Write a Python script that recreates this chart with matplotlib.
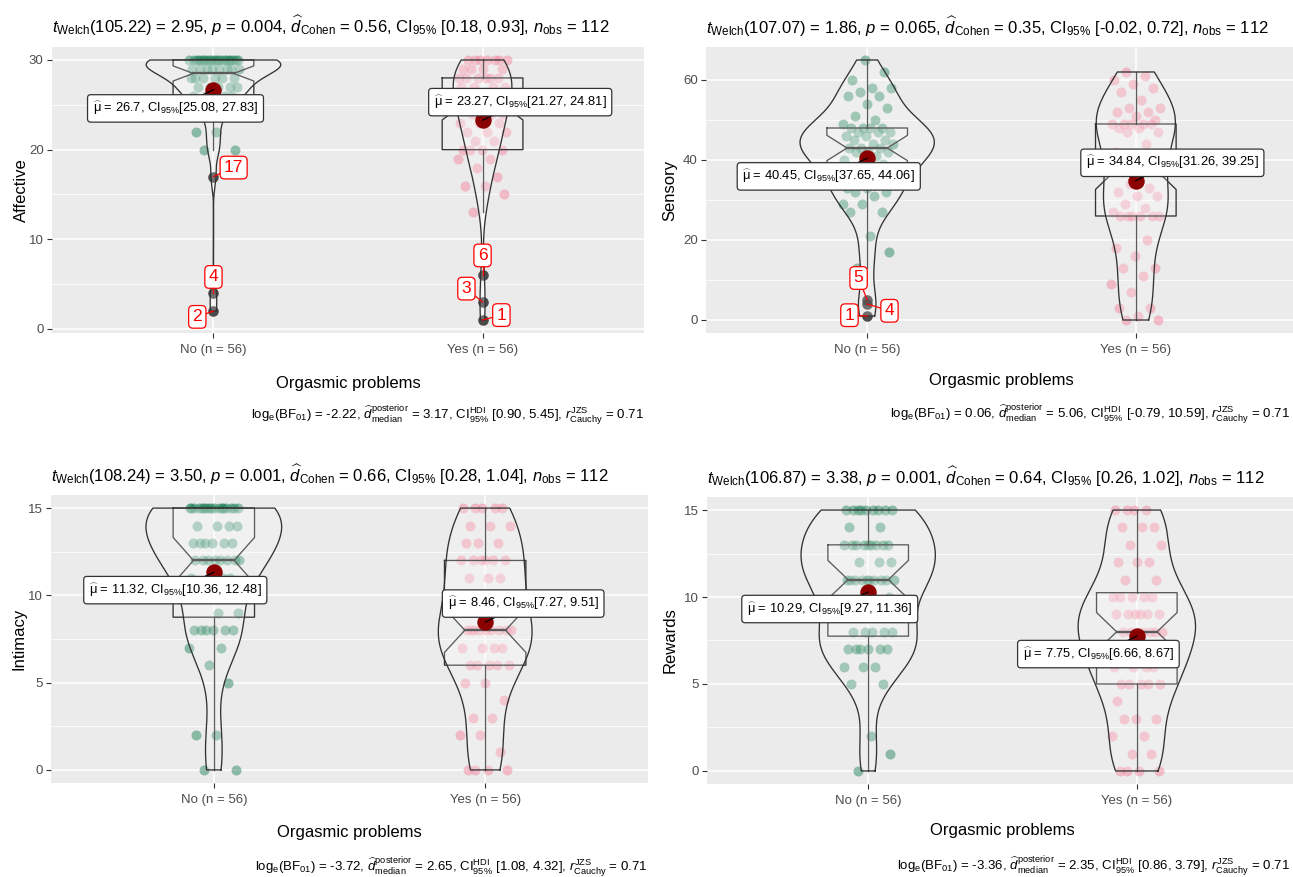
import numpy as np
import matplotlib
matplotlib.use("Agg")
import matplotlib.pyplot as plt

plt.rcParams['font.family'] = ['Liberation Sans', 'DejaVu Sans']
plt.rcParams['mathtext.fontset'] = 'custom'
plt.rcParams['mathtext.rm'] = 'Liberation Sans'
plt.rcParams['mathtext.it'] = 'Liberation Sans:italic'
plt.rcParams['mathtext.bf'] = 'Liberation Sans:bold'
plt.rcParams['mathtext.sf'] = 'Liberation Sans'

# ---------------- data ----------------
groups = ["No", "Yes"]
group_n = [56, 56]
x_title = "Orgasmic problems"
measures = ["Affective", "Sensory", "Intimacy", "Rewards"]

affective_no = [2, 4, 17, 20, 20, 22, 22, 24, 24, 25, 25, 25, 26, 26, 26, 26, 26,
                27, 27, 27, 27, 27, 28, 28, 28, 28, 28, 28,
                29, 29, 29, 29, 29, 29, 29, 29] + [30] * 20
affective_yes = [1, 3, 6, 13, 15, 16, 16, 17, 18, 19, 19, 20, 20, 20, 20, 21, 21,
                 22, 22, 22, 23, 23, 23, 24, 24, 24, 25, 25, 25, 25, 25,
                 26, 26, 26, 26, 27, 27, 27, 27, 28, 28, 28, 28, 28, 28,
                 29, 29, 29, 29, 30, 30, 30, 30, 30, 30, 30]
sensory_no = [1, 4, 5, 13, 17, 21, 27, 27, 29, 29, 31, 32, 32, 33, 33,
              35, 36, 37, 38, 38, 39, 40, 40, 41, 42, 42, 42, 43, 43,
              43, 44, 44, 45, 45, 46, 46, 47, 47, 47, 48, 48, 48, 48,
              49, 50, 51, 53, 54, 56, 56, 57, 58, 58, 60, 62, 65]
sensory_yes = [0, 0, 1, 3, 3, 7, 9, 11, 13, 13, 16, 18, 20, 26,
               26, 26, 26, 26, 26, 27, 28, 29, 31, 31, 32, 33, 34, 37,
               38, 38, 39, 40, 42, 44, 47, 47, 48, 48, 49, 49, 49, 49,
               49, 50, 51, 52, 52, 53, 53, 55, 57, 58, 59, 60, 61, 62]
intimacy_no = [0, 0, 2, 2, 5, 6, 7, 7, 8, 8, 8, 8, 8, 8, 9,
               9, 10, 11, 11, 11, 11, 12, 12, 12, 12, 12, 12, 12,
               12, 13, 13, 13, 13, 13, 13, 14, 14, 14, 14, 15, 15, 15] + [15] * 14
intimacy_yes = [0, 0, 0, 0, 1, 2, 2, 3, 3, 4, 5, 5, 6, 6,
                6, 6, 6, 7, 7, 7, 7, 8, 8, 8, 8, 8, 8, 8,
                8, 8, 9, 9, 10, 10, 10, 10, 11, 11, 11, 12, 12, 12,
                12, 12, 12, 13, 13, 13, 14, 14, 14, 15, 15, 15, 15, 15]
rewards_no = [0, 1, 2, 5, 5, 6, 6, 6, 7, 7, 7, 7, 7, 7,
              8, 8, 8, 8, 8, 9, 9, 9, 10, 11, 11, 11, 11, 11,
              11, 11, 11, 11, 11, 12, 12, 12, 13, 13, 13, 13, 13, 13,
              13, 13, 13, 14, 14, 15, 15, 15, 15, 15, 15, 15, 15, 15]
rewards_yes = [0, 0, 0, 0, 1, 1, 2, 2, 3, 3, 3, 4, 5, 5,
               5, 5, 5, 6, 6, 6, 6, 7, 7, 7, 7, 8, 8, 8,
               8, 8, 8, 9, 9, 9, 9, 9, 9, 10, 10, 10, 10, 10,
               11, 11, 12, 12, 12, 13, 13, 14, 14, 14, 15, 15, 15, 15]

y_ticks = [[0, 10, 20, 30], [0, 20, 40, 60], [0, 5, 10, 15], [0, 5, 10, 15]]

# reported statistics (text)
welch_df = ["105.22", "107.07", "108.24", "106.87"]
welch_t = ["2.95", "1.86", "3.50", "3.38"]
p_val = ["0.004", "0.065", "0.001", "0.001"]
cohen_d = ["0.56", "0.35", "0.66", "0.64"]
cohen_ci = [["0.18", "0.93"], ["-0.02", "0.72"], ["0.28", "1.04"], ["0.26", "1.02"]]
n_obs = ["112", "112", "112", "112"]
log_bf = ["-2.22", "0.06", "-3.72", "-3.36"]
post_median = ["3.17", "5.06", "2.65", "2.35"]
hdi_ci = [["0.90", "5.45"], ["-0.79", "10.59"], ["1.08", "4.32"], ["0.86", "3.79"]]
r_cauchy = ["0.71", "0.71", "0.71", "0.71"]
mean_text = [["26.7", "23.27"], ["40.45", "34.84"], ["11.32", "8.46"], ["10.29", "7.75"]]
mean_ci = [[["25.08", "27.83"], ["21.27", "24.81"]],
           [["37.65", "44.06"], ["31.26", "39.25"]],
           [["10.36", "12.48"], ["7.27", "9.51"]],
           [["9.27", "11.36"], ["6.66", "8.67"]]]

data_sets = [[affective_no, affective_yes], [sensory_no, sensory_yes],
             [intimacy_no, intimacy_yes], [rewards_no, rewards_yes]]

# ---------------- layout (pixels) ----------------
W, H = 1293, 877
rects = [(52, 644, 47, 333), (706, 1297, 47, 333),
         (51, 648, 495, 783), (707, 1298, 497, 784)]
title_y = [26, 27, 475, 477]
xlab_y = [383, 381, 833, 831]
cap_y = [415, 414, 867, 866]
ylab_x = [21, 670, 19, 670]
mean_lab_pos = [[(0.859, 24.6), (2.14, 25.3)],
                [(0.857, 35.9), (2.136, 39.3)],
                [(0.858, 10.3), (2.14, 9.53)],
                [(0.857, 9.31), (1.857, 6.72)]]
out_lab_pos = [[{17: (1.075, 18.0), 4: (1.0, 5.8), 2: (0.94, 1.35)},
                {6: (2.0, 8.2), 3: (1.94, 4.5), 1: (2.07, 1.55)}],
               [{5: (0.968, 10.5), 4: (1.083, 2.3), 1: (0.934, 1.2)}, {}],
               [{}, {}], [{}, {}]]

colors = ["#137A4E", "#F27D96"]
line_col = "#333333"

fig = plt.figure(figsize=(W / 100, H / 100), dpi=100)


def px_to_fig(x, y):
    return x / W, 1 - y / H


def kde_nrd0(vals, grid):
    v = np.asarray(vals, float)
    n = len(v)
    sd = v.std(ddof=1)
    q1, q3 = np.percentile(v, [25, 75])
    lo = min(sd, (q3 - q1) / 1.34)
    if lo <= 0:
        lo = sd
    bw = 0.9 * lo * n ** -0.2
    z = (grid[:, None] - v[None, :]) / bw
    return np.exp(-0.5 * z ** 2).sum(axis=1) / (n * bw * np.sqrt(2 * np.pi))


def jitter_offsets(vals, width=0.095):
    out = []
    for i, _ in enumerate(vals):
        f = (i * 0.6180339887 + 0.31) % 1.0
        out.append((f - 0.5) * 2 * width)
    return np.array(out)


for k in range(4):
    x0, x1, yt, yb = rects[k]
    fx0, fy1 = px_to_fig(x0, yt)
    fx1, fy0 = px_to_fig(x1, yb)
    ax = fig.add_axes([fx0, fy0, fx1 - fx0, fy1 - fy0])
    ax.set_facecolor("#EBEBEB")
    for s in ax.spines.values():
        s.set_visible(False)
    data = data_sets[k]
    allv = np.concatenate([np.asarray(d, float) for d in data])
    lo, hi = allv.min(), allv.max()
    pad = 0.05 * (hi - lo)
    ax.set_ylim(lo - pad, hi + pad)
    ax.set_xlim(0.4, 2.6)
    ticks = y_ticks[k]
    ax.set_yticks(ticks)
    ax.set_yticklabels([str(t) for t in ticks])
    step = ticks[1] - ticks[0]
    minors = [t + step / 2 for t in ticks[:-1]]
    ax.set_yticks(minors, minor=True)
    ax.tick_params(axis='y', which='minor', length=0)
    ax.set_xticks([1, 2])
    ax.set_xticklabels([f"{g} (n = {n})" for g, n in zip(groups, group_n)])
    ax.tick_params(axis='both', which='major', length=3.5, width=0.8,
                   color=line_col, labelcolor="#4D4D4D", labelsize=9.5, pad=2.5)
    ax.tick_params(axis='x', which='major', pad=4.5)
    ax.grid(True, which='major', color='white', lw=1.1, zorder=0)
    ax.grid(True, which='minor', axis='y', color='white', lw=0.55, zorder=0)
    ax.set_axisbelow(True)

    grids, dens = [], []
    for d in data:
        g = np.linspace(min(d), max(d), 512)
        grids.append(g)
        dens.append(kde_nrd0(d, g))
    dmax = max(dd.max() for dd in dens)

    for gi, d in enumerate(data):
        pos = gi + 1
        v = np.asarray(d, float)
        q1, med, q3 = np.percentile(v, [25, 50, 75])
        iqr = q3 - q1
        lofence, hifence = q1 - 1.5 * iqr, q3 + 1.5 * iqr
        inl = v[(v >= lofence) & (v <= hifence)]
        outl = v[(v < lofence) | (v > hifence)]
        jx = pos + jitter_offsets(inl)
        ax.scatter(jx, inl, s=52, color=colors[gi], alpha=0.45, linewidths=0, zorder=2)
        xmin, xmax = pos - 0.15, pos + 0.15
        ind = (1 - 0.5) * 0.3 / 2
        nu = med + 1.58 * iqr / np.sqrt(len(v))
        nl = med - 1.58 * iqr / np.sqrt(len(v))
        bx = [xmin, xmin, xmin + ind, xmin, xmin, xmax, xmax, xmax - ind, xmax, xmax]
        by = [q3, nu, med, nl, q1, q1, nl, med, nu, q3]
        ax.fill(bx, by, facecolor='white', alpha=0.2, edgecolor='none', zorder=3)
        ax.plot(bx + [bx[0]], by + [by[0]], color=line_col, lw=0.95, zorder=3)
        ax.plot([xmin + ind, xmax - ind], [med, med], color=line_col, lw=1.7, zorder=3)
        ax.plot([pos, pos], [q3, inl.max()], color=line_col, lw=0.95, zorder=3)
        ax.plot([pos, pos], [q1, inl.min()], color=line_col, lw=0.95, zorder=3)
        if len(outl):
            ax.scatter(np.full(len(outl), pos), outl, s=58, color='#222222', alpha=0.8,
                       linewidths=0, zorder=4)
        hw = 0.25 * dens[gi] / dmax
        g = grids[gi]
        vx = np.concatenate([pos + hw, (pos - hw)[::-1]])
        vy = np.concatenate([g, g[::-1]])
        ax.fill(vx, vy, facecolor='white', alpha=0.2, edgecolor='none', zorder=4)
        ax.plot(np.append(vx, vx[0]), np.append(vy, vy[0]), color=line_col, lw=0.95, zorder=4)
        for ov, (lx, ly) in out_lab_pos[k][gi].items():
            ax.plot([pos, lx], [ov, ly], color='red', lw=0.9, zorder=5)
            ax.text(lx, ly, str(ov), color='red', fontsize=12.5, ha='center', va='center',
                    zorder=6,
                    bbox=dict(boxstyle='round,pad=0.22,rounding_size=0.25', fc='white',
                              ec='red', lw=0.9))
        m = v.mean()
        ax.scatter([pos], [m], s=140, color='#8B0000', linewidths=0, zorder=7)
        lx, ly = mean_lab_pos[k][gi]
        ax.plot([pos, lx], [m, ly], color='black', lw=0.9, zorder=7)
        lab = (r"$\widehat{\mathrm{\mu}}$ = " + mean_text[k][gi] + r", CI$_{95\%}$[" +
               mean_ci[k][gi][0] + ", " + mean_ci[k][gi][1] + "]")
        ax.text(lx, ly, lab, fontsize=9.3, ha='center', va='center', zorder=8,
                bbox=dict(boxstyle='round,pad=0.4,rounding_size=0.25', fc='white',
                          ec=line_col, lw=0.9))

    title = (r"$t_{\mathrm{Welch}}$(" + welch_df[k] + ") = " + welch_t[k] +
             r", $p$ = " + p_val[k] + r", $\widehat{d}_{\mathrm{Cohen}}$ = " + cohen_d[k] +
             r", CI$_{95\%}$ [" + cohen_ci[k][0] + ", " + cohen_ci[k][1] +
             r"], $n_{\mathrm{obs}}$ = " + n_obs[k])
    tx, ty = px_to_fig(x0, title_y[k])
    fig.text(tx, ty, title, fontsize=12, ha='left', va='center')
    caption = (r"log$_{\mathrm{e}}$(BF$_{01}$) = " + log_bf[k] +
               r", $\widehat{d}_{\mathrm{median}}^{\mathrm{posterior}}$ = " + post_median[k] +
               r", CI$_{95\%}^{\mathrm{HDI}}$ [" + hdi_ci[k][0] + ", " + hdi_ci[k][1] +
               r"], $r_{\mathrm{Cauchy}}^{\mathrm{JZS}}$ = " + r_cauchy[k])
    cx, cy = px_to_fig(min(x1, W - 3), cap_y[k])
    fig.text(cx, cy, caption, fontsize=9.5, ha='right', va='center')
    xx, xy = px_to_fig((x0 + x1) / 2, xlab_y[k])
    fig.text(xx, xy, x_title, fontsize=12, ha='center', va='center')
    yx, yy = px_to_fig(ylab_x[k], (yt + yb) / 2)
    fig.text(yx, yy, measures[k], fontsize=12, ha='center', va='center', rotation=90)

fig.savefig("out.png", dpi=100, facecolor='white')
